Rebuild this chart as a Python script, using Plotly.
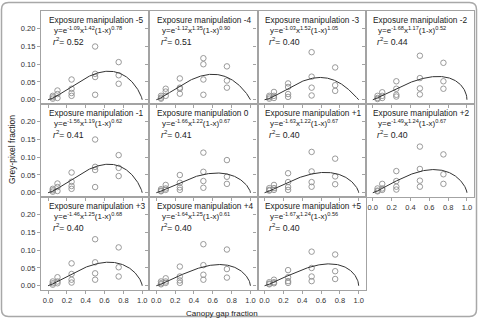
import numpy as np
import plotly.graph_objects as go
from plotly.subplots import make_subplots

# ---------------- data ----------------
panel_titles = ["Exposure manipulation -5", "Exposure manipulation -4", "Exposure manipulation -3",
                "Exposure manipulation -2", "Exposure manipulation -1", "Exposure manipulation 0",
                "Exposure manipulation +1", "Exposure manipulation +2", "Exposure manipulation +3",
                "Exposure manipulation +4", "Exposure manipulation +5"]
# fitted parameters as printed: y = e^a x^b (1-x)^c
fit_a = ["-1.09", "-1.12", "-1.03", "-1.68", "-1.56", "-1.66", "-1.63", "-1.49", "-1.46", "-1.64", "-1.67"]
fit_b = ["1.42", "1.35", "1.52", "1.17", "1.19", "1.22", "1.22", "1.24", "1.25", "1.25", "1.24"]
fit_c = ["0.78", "0.90", "1.05", "0.52", "0.62", "0.67", "0.67", "0.67", "0.68", "0.61", "0.56"]
r2_values = ["0.52", "0.51", "0.40", "0.44", "0.41", "0.41", "0.40", "0.40", "0.40", "0.40", "0.40"]
# parameters of the curve actually drawn in each panel (panel -1 shows the same curve as -5)
curve_a = [-1.09, -1.12, -1.03, -1.68, -1.09, -1.66, -1.63, -1.49, -1.46, -1.64, -1.67]
curve_b = [1.42, 1.35, 1.52, 1.17, 1.42, 1.22, 1.22, 1.24, 1.25, 1.25, 1.24]
curve_c = [0.78, 0.90, 1.05, 0.52, 0.78, 0.67, 0.67, 0.67, 0.68, 0.61, 0.56]

gap_x = [0.05, 0.05, 0.05, 0.1, 0.1, 0.1, 0.25, 0.25, 0.25, 0.25,
         0.5, 0.5, 0.5, 0.5, 0.75, 0.75, 0.75]
grey_m5 = [0.011, 0.007, 0.003, 0.026, 0.016, 0.005, 0.057, 0.031, 0.019, 0.011, 0.150, 0.073, 0.064, 0.014, 0.106, 0.069, 0.045]
grey_m4 = [0.011, 0.006, 0.003, 0.031, 0.023, 0.011, 0.060, 0.034, 0.031, 0.017, 0.117, 0.100, 0.057, 0.014, 0.094, 0.054, 0.034]
grey_m3 = [0.011, 0.007, 0.003, 0.022, 0.011, 0.005, 0.046, 0.036, 0.016, 0.008, 0.134, 0.065, 0.034, 0.012, 0.091, 0.041, 0.025]
grey_m2 = [0.011, 0.005, 0.002, 0.021, 0.011, 0.005, 0.052, 0.031, 0.014, 0.009, 0.124, 0.061, 0.032, 0.015, 0.104, 0.052, 0.031]
grey_m1 = [0.011, 0.007, 0.003, 0.026, 0.016, 0.005, 0.057, 0.031, 0.019, 0.011, 0.150, 0.073, 0.064, 0.016, 0.106, 0.070, 0.047]
grey_0 = [0.010, 0.006, 0.004, 0.022, 0.012, 0.008, 0.050, 0.028, 0.015, 0.008, 0.113, 0.059, 0.033, 0.014, 0.092, 0.045, 0.025]
grey_p1 = [0.013, 0.008, 0.006, 0.022, 0.013, 0.008, 0.055, 0.030, 0.016, 0.008, 0.115, 0.060, 0.030, 0.017, 0.096, 0.046, 0.024]
grey_p2 = [0.012, 0.006, 0.004, 0.025, 0.012, 0.008, 0.061, 0.033, 0.017, 0.009, 0.130, 0.067, 0.034, 0.017, 0.108, 0.052, 0.025]
grey_p3 = [0.012, 0.007, 0.003, 0.024, 0.012, 0.007, 0.063, 0.033, 0.017, 0.009, 0.131, 0.066, 0.035, 0.017, 0.108, 0.052, 0.026]
grey_p4 = [0.012, 0.007, 0.004, 0.021, 0.012, 0.008, 0.054, 0.026, 0.015, 0.008, 0.117, 0.058, 0.031, 0.017, 0.102, 0.047, 0.023]
grey_p5 = [0.010, 0.006, 0.004, 0.017, 0.010, 0.007, 0.044, 0.024, 0.013, 0.008, 0.096, 0.050, 0.026, 0.013, 0.088, 0.041, 0.019]
grey_series = [grey_m5, grey_m4, grey_m3, grey_m2, grey_m1, grey_0,
               grey_p1, grey_p2, grey_p3, grey_p4, grey_p5]

x_ticks = [0.0, 0.2, 0.4, 0.6, 0.8, 1.0]
x_tick_labels = ["0.0", "0.2", "0.4", "0.6", "0.8", "1.0"]
y_ticks = [0.0, 0.05, 0.10, 0.15, 0.20]
y_tick_labels = ["0.00", "0.05", "0.10", "0.15", "0.20"]

# ---------------- figure ----------------
W, H = 484, 318
L, R, T, B = 41, 10, 11, 28
FONT = "Liberation Sans, Arial, sans-serif"
FRAME = "#a3a3a3"
TXT = "#222222"

specs = [[{}, {}, {}, {}], [{}, {}, {}, {}], [{}, {}, {}, None]]
fig = make_subplots(rows=3, cols=4, specs=specs, horizontal_spacing=0, vertical_spacing=0)

xs = np.linspace(0, 1, 301)
for i in range(11):
    row, col = i // 4 + 1, i % 4 + 1
    fig.add_trace(go.Scatter(x=gap_x, y=grey_series[i], mode="markers",
                             marker=dict(symbol="circle-open", size=5.5, color="#8f8f8f",
                                         line=dict(width=0.9, color="#8f8f8f")),
                             showlegend=False, hoverinfo="skip"), row=row, col=col)
    ys = np.exp(curve_a[i]) * xs ** curve_b[i] * (1 - xs) ** curve_c[i]
    fig.add_trace(go.Scatter(x=xs, y=ys, mode="lines", line=dict(color="#333333", width=1),
                             showlegend=False, hoverinfo="skip"), row=row, col=col)

    show_x = (row == 3) or (row == 2 and col == 4)
    fig.update_xaxes(range=[-0.075, 1.075], tickvals=x_ticks, ticktext=x_tick_labels,
                     showticklabels=show_x, ticks="outside", ticklen=3, tickwidth=1,
                     tickcolor=FRAME, showline=True, linecolor=FRAME, linewidth=1.2,
                     mirror=True, showgrid=False, zeroline=False,
                     tickfont=dict(family=FONT, size=7.5, color="#333333"),
                     row=row, col=col)
    fig.update_yaxes(range=[-0.012, 0.25], tickvals=y_ticks, ticktext=y_tick_labels,
                     showticklabels=(col == 1), ticks="outside", ticklen=3, tickwidth=1,
                     tickcolor=FRAME, showline=True, linecolor=FRAME, linewidth=1.2,
                     mirror=True, showgrid=False, zeroline=False,
                     tickfont=dict(family=FONT, size=7.5, color="#333333"),
                     row=row, col=col)

    n = "" if i == 0 else str(i + 1)
    xr, yr = f"x{n} domain", f"y{n} domain"
    fig.add_annotation(xref=xr, yref=yr, x=0.053, y=0.905, xanchor="left", yanchor="middle",
                       text=panel_titles[i], showarrow=False,
                       font=dict(family=FONT, size=8.3, color=TXT))
    fig.add_annotation(xref=xr, yref=yr, x=0.097, y=0.792, xanchor="left", yanchor="middle",
                       text=f"y=e<sup>{fit_a[i]}</sup>x<sup>{fit_b[i]}</sup>(1-x)<sup>{fit_c[i]}</sup>",
                       showarrow=False, font=dict(family=FONT, size=8, color=TXT))
    fig.add_annotation(xref=xr, yref=yr, x=0.09, y=0.675, xanchor="left", yanchor="middle",
                       text=f"<i>r</i><sup>2</sup>= {r2_values[i]}", showarrow=False,
                       font=dict(family=FONT, size=8.7, color=TXT))

pw, ph = W - L - R, H - T - B
def px(x):
    return (x - L) / pw
def py(y):
    return (H - B - y) / ph

# axis titles
fig.add_annotation(xref="paper", yref="paper", x=px(12), y=py(150), text="Grey-pixel fraction",
                   textangle=-90, showarrow=False, xanchor="center", yanchor="middle",
                   font=dict(family=FONT, size=8.5, color=TXT))
fig.add_annotation(xref="paper", yref="paper", x=px(222), y=py(313), text="Canopy gap fraction",
                   showarrow=False, xanchor="center", yanchor="middle",
                   font=dict(family=FONT, size=8, color=TXT))

# rounded outer border
x0, y0, x1, y1, rr = 1.5, 2.5, 476.5, 316.5, 7
path = (f"M {px(x0 + rr)},{py(y0)} L {px(x1 - rr)},{py(y0)} Q {px(x1)},{py(y0)} {px(x1)},{py(y0 + rr)} "
        f"L {px(x1)},{py(y1 - rr)} Q {px(x1)},{py(y1)} {px(x1 - rr)},{py(y1)} "
        f"L {px(x0 + rr)},{py(y1)} Q {px(x0)},{py(y1)} {px(x0)},{py(y1 - rr)} "
        f"L {px(x0)},{py(y0 + rr)} Q {px(x0)},{py(y0)} {px(x0 + rr)},{py(y0)} Z")
fig.add_shape(type="path", path=path, xref="paper", yref="paper",
              line=dict(color="#a8a8a8", width=1.5), fillcolor="rgba(0,0,0,0)")

fig.update_layout(width=W, height=H, margin=dict(l=L, r=R, t=T, b=B),
                  paper_bgcolor="white", plot_bgcolor="white",
                  font=dict(family=FONT, color=TXT))

fig.write_html("out.html")
